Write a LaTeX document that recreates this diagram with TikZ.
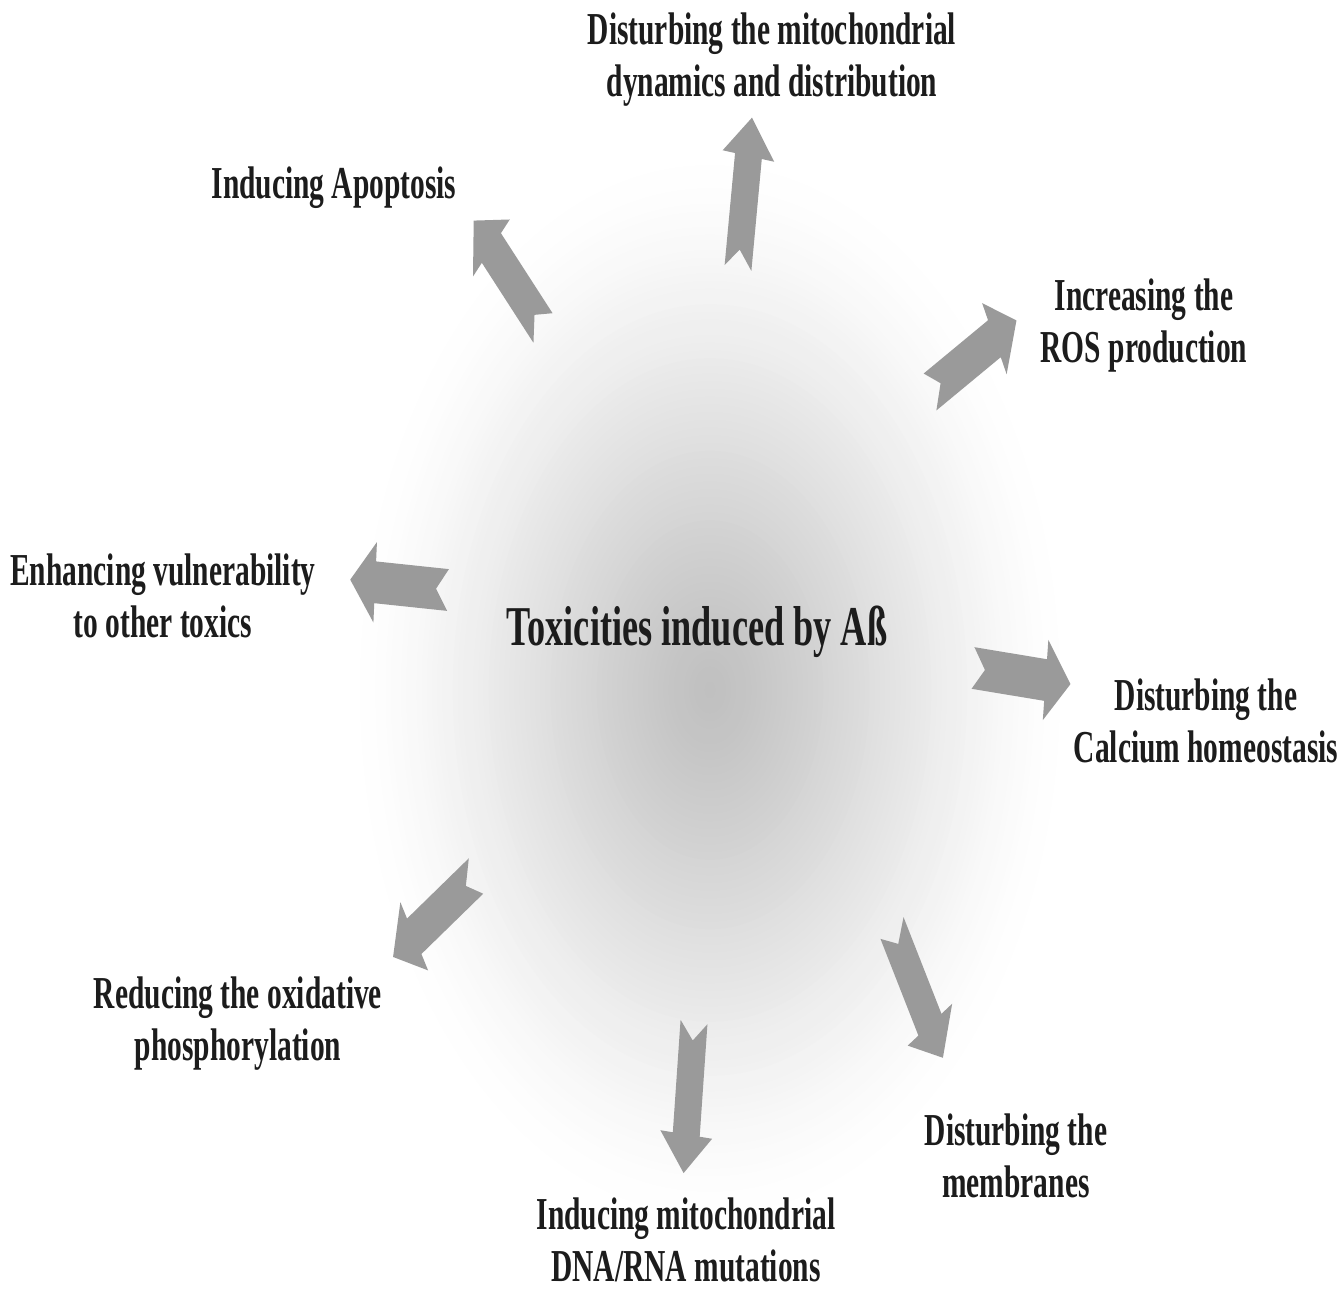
\documentclass[tikz,border=0pt]{standalone}
\usepackage{fontspec}
\newfontfamily\labfont{Liberation Serif}[FakeStretch=0.645]
\definecolor{arrowgray}{RGB}{154,154,154}
\definecolor{txt}{RGB}{28,28,28}
\newcommand\notched[3]{%
  \begin{scope}[shift={(#1,#2)},yscale=1.55,rotate=#3]
    \fill[arrowgray] (0,-13.5) -- (12,0) -- (0,13.5) -- (73,13.5) -- (73,26)
      -- (98,0) -- (73,-26) -- (73,-13.5) -- cycle;
  \end{scope}}
\tikzset{
  lab/.style={text=txt, align=center, inner sep=0pt,
    font=\labfont\bfseries\fontsize{26}{29.6}\selectfont},
  ttl/.style={text=txt, inner sep=0pt,
    font=\labfont\bfseries\fontsize{32}{36}\selectfont}
}
\begin{document}
\begin{tikzpicture}[x=0.02cm,y=-0.02cm]
\useasboundingbox (0,0) rectangle (1342,1290);
\fill[white] (0,0) rectangle (1342,1290);
% background radial gradient
\foreach \i in {70,...,1}{
  \pgfmathsetmacro\r{\i/70}
  \pgfmathsetmacro\d{25*(1-\r*sqrt(\r))*sqrt(1-\r)}
  \pgfmathsetmacro\rx{7.2*\r}
  \pgfmathsetmacro\ry{10.8*\r}
  \fill[black!\d] (710,690) ellipse [x radius=\rx cm, y radius=\ry cm];
}
% arrows
\notched{738}{268}{81.8}
\notched{543}{328}{135}
\notched{930}{392}{28.1}
\notched{448}{590}{176.1}
\notched{973}{668}{-6.1}
\notched{476}{876}{-147.8}
\notched{694}{1022}{-96.1}
\notched{892}{928}{-58.7}
% texts
\node[ttl] (center) at (697,632) {Toxicities induced by Aß};
\node[lab] (dyn) at (772,60) {Disturbing the mitochondrial\\dynamics and distribution};
\node[lab] (apo) at (334,188) {Inducing Apoptosis};
\node[lab] (ros) at (1144,326) {Increasing the\\ROS production};
\node[lab] (vul) at (163,596) {Enhancing vulnerability\\to other toxics};
\node[lab] (cal) at (1206,721) {Disturbing the\\Calcium homeostasis};
\node[lab] (oxp) at (238,1024) {Reducing the oxidative\\phosphorylation};
\node[lab] (dna) at (686,1240) {Inducing mitochondrial\\DNA/RNA mutations};
\node[lab] (mem) at (1016,1156) {Disturbing the\\membranes};
\end{tikzpicture}
\end{document}
